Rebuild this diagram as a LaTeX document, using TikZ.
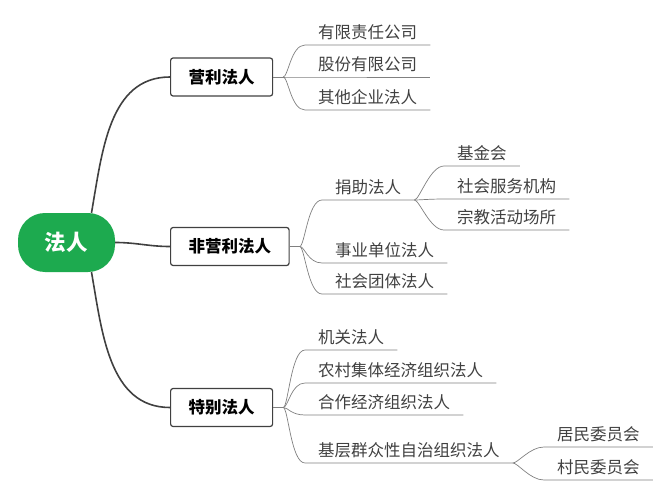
\documentclass[tikz,border=0pt]{standalone}
\usepackage{fontspec}
\newfontfamily\cjk{Noto Sans CJK SC}
\definecolor{rootgreen}{HTML}{1DAA4F}

\begin{document}
\begin{tikzpicture}[x=1pt,y=-1pt,font=\cjk\fontsize{16.5}{18}\selectfont,
   root/.style={fill=rootgreen,rounded corners=27pt,minimum width=97pt,minimum height=59pt,
     text=white,font=\cjk\bfseries\fontsize{21.5}{23}\selectfont},
   kind/.style={draw=black!75,line width=1.2pt,rounded corners=2.5pt,minimum height=38pt,
     inner xsep=18pt,anchor=west,font=\cjk\bfseries\fontsize{16.5}{18}\selectfont},
   limb/.style={draw=black!75,line width=1.6pt},
   twig/.style={draw=black!50,line width=0.7pt},
   leaf/.style={anchor=south west,inner xsep=13pt,inner ysep=4.5pt,text=black!75}]
\useasboundingbox (0,0) rectangle (667,500);
% one leaf: name, branch point, x, y of underline, text
\newcommand{\twigleaf}[5]{\node[leaf] (#1) at (#3,#4) {#5};
  \draw[twig] (#2) .. controls +(5,0) and +(-14,0) .. (#1.south west) -- (#1.south east);}
% root and the three kinds
\node[root] (faren) at (66.5,242.5) {法人};
\node[kind] (yingli) at (170,77) {营利法人};
\node[kind] (feiyingli) at (170,246.5) {非营利法人};
\node[kind] (tebie) at (170,407.5) {特别法人};
\draw[limb] ([xshift=25pt]faren.north) to[out=80,in=180] (yingli.west);
\draw[limb] (faren.east) to[out=0,in=180] (feiyingli.west);
\draw[limb] ([xshift=25pt]faren.south) to[out=-80,in=180] (tebie.west);
% branch points
\coordinate (yl) at ([xshift=10pt]yingli.east);
\coordinate (fy) at ([xshift=10pt]feiyingli.east);
\coordinate (tb) at ([xshift=10pt]tebie.east);
\draw[twig] (yingli.east) -- (yl);
\draw[twig] (feiyingli.east) -- (fy);
\draw[twig] (tebie.east) -- (tb);
% 营利法人
\twigleaf{youxian}{yl}{305}{45}{有限责任公司}
\twigleaf{gufen}{yl}{305}{77}{股份有限公司}
\twigleaf{qita}{yl}{305}{110}{其他企业法人}
% 非营利法人
\twigleaf{juzhu}{fy}{322}{200}{捐助法人}
\twigleaf{shiye}{fy}{322}{263}{事业单位法人}
\twigleaf{tuanti}{fy}{322}{294}{社会团体法人}
\twigleaf{jijin}{juzhu.south east}{444}{166}{基金会}
\twigleaf{fuwu}{juzhu.south east}{444}{199}{社会服务机构}
\twigleaf{zongjiao}{juzhu.south east}{444}{230}{宗教活动场所}
% 特别法人
\twigleaf{jiguan}{tb}{305}{350}{机关法人}
\twigleaf{nongcun}{tb}{305}{383}{农村集体经济组织法人}
\twigleaf{hezuo}{tb}{305}{415}{合作经济组织法人}
\twigleaf{jiceng}{tb}{305}{463}{基层群众性自治组织法人}
\twigleaf{jumin}{jiceng.south east}{544}{447}{居民委员会}
\twigleaf{cunmin}{jiceng.south east}{544}{480}{村民委员会}
\end{tikzpicture}
\end{document}
